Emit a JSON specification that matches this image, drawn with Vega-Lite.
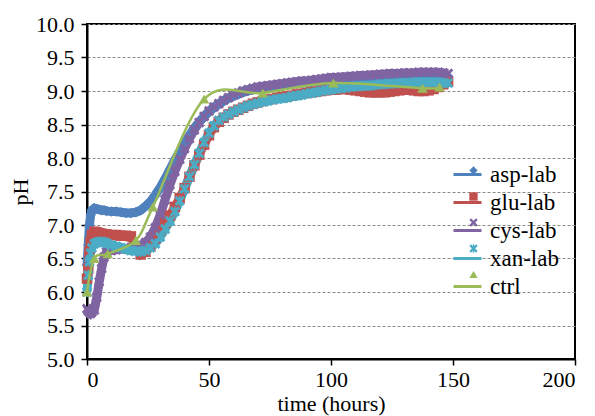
{
  "$schema": "https://vega.github.io/schema/vega-lite/v6.json",
  "width": 488,
  "height": 335,
  "autosize": {"type": "none"},
  "padding": {"left": 87, "top": 24, "right": 20, "bottom": 57},
  "background": "white",
  "view": {"stroke": "#000", "strokeWidth": 2},
  "config": {"font": "Liberation Serif"},
  "datasets": {
    "names": [
      {"series": "asp-lab", "label": "asp-lab", "o": 1},
      {"series": "glu-lab", "label": "glu-lab", "o": 2},
      {"series": "cys-lab", "label": "cys-lab", "o": 3},
      {"series": "xan-lab", "label": "xan-lab", "o": 4},
      {"series": "ctrl", "label": "ctrl", "o": 5}
    ],
    "ctrl": [
      {"series": "ctrl", "t": 0, "pH": 6.0},
      {"series": "ctrl", "t": 3, "pH": 6.5},
      {"series": "ctrl", "t": 8.5, "pH": 6.57},
      {"series": "ctrl", "t": 20, "pH": 6.77},
      {"series": "ctrl", "t": 27, "pH": 7.27},
      {"series": "ctrl", "t": 48, "pH": 8.88},
      {"series": "ctrl", "t": 72, "pH": 8.97},
      {"series": "ctrl", "t": 101, "pH": 9.12},
      {"series": "ctrl", "t": 137.5, "pH": 9.04},
      {"series": "ctrl", "t": 144.5, "pH": 9.06}
    ],
    "dense": [
      {"t": 0, "asp-lab": 6.40, "glu-lab": 6.20, "cys-lab": 5.75, "xan-lab": 6.00},
      {"t": 0.5, "asp-lab": 6.70, "glu-lab": 6.35, "cys-lab": 5.72, "xan-lab": 6.25},
      {"t": 1, "asp-lab": 7.00, "glu-lab": 6.60, "cys-lab": 5.70, "xan-lab": 6.45},
      {"t": 1.5, "asp-lab": 7.15, "glu-lab": 6.75, "cys-lab": 5.68, "xan-lab": 6.58},
      {"t": 2, "asp-lab": 7.22, "glu-lab": 6.85, "cys-lab": 5.70, "xan-lab": 6.66},
      {"t": 3, "asp-lab": 7.25, "glu-lab": 6.90, "cys-lab": 5.73, "xan-lab": 6.72},
      {"t": 4, "asp-lab": 7.24, "glu-lab": 6.89, "cys-lab": 5.92, "xan-lab": 6.74},
      {"t": 5, "asp-lab": 7.23, "glu-lab": 6.88, "cys-lab": 6.15, "xan-lab": 6.75},
      {"t": 6, "asp-lab": 7.22, "glu-lab": 6.87, "cys-lab": 6.35, "xan-lab": 6.75},
      {"t": 7, "asp-lab": 7.22, "glu-lab": 6.86, "cys-lab": 6.52, "xan-lab": 6.74},
      {"t": 8, "asp-lab": 7.21, "glu-lab": 6.86, "cys-lab": 6.60, "xan-lab": 6.73},
      {"t": 10, "asp-lab": 7.20, "glu-lab": 6.85, "cys-lab": 6.62, "xan-lab": 6.70},
      {"t": 12, "asp-lab": 7.20, "glu-lab": 6.85, "cys-lab": 6.63, "xan-lab": 6.68},
      {"t": 14, "asp-lab": 7.19, "glu-lab": 6.84, "cys-lab": 6.64, "xan-lab": 6.66},
      {"t": 16, "asp-lab": 7.18, "glu-lab": 6.84, "cys-lab": 6.65, "xan-lab": 6.64},
      {"t": 18, "asp-lab": 7.18, "glu-lab": 6.83, "cys-lab": 6.66, "xan-lab": 6.62},
      {"t": 20, "asp-lab": 7.19, "glu-lab": 6.65, "cys-lab": 6.68, "xan-lab": 6.61},
      {"t": 22, "asp-lab": 7.22, "glu-lab": 6.56, "cys-lab": 6.70, "xan-lab": 6.60},
      {"t": 24, "asp-lab": 7.28, "glu-lab": 6.60, "cys-lab": 6.74, "xan-lab": 6.62},
      {"t": 26, "asp-lab": 7.35, "glu-lab": 6.68, "cys-lab": 6.82, "xan-lab": 6.66},
      {"t": 28, "asp-lab": 7.45, "glu-lab": 6.80, "cys-lab": 6.96, "xan-lab": 6.72},
      {"t": 30, "asp-lab": 7.56, "glu-lab": 6.92, "cys-lab": 7.15, "xan-lab": 6.82},
      {"t": 32, "asp-lab": 7.69, "glu-lab": 7.03, "cys-lab": 7.38, "xan-lab": 6.94},
      {"t": 34, "asp-lab": 7.83, "glu-lab": 7.14, "cys-lab": 7.60, "xan-lab": 7.06},
      {"t": 36, "asp-lab": 7.97, "glu-lab": 7.27, "cys-lab": 7.80, "xan-lab": 7.20},
      {"t": 38, "asp-lab": 8.10, "glu-lab": 7.40, "cys-lab": 7.98, "xan-lab": 7.36},
      {"t": 40, "asp-lab": 8.22, "glu-lab": 7.55, "cys-lab": 8.14, "xan-lab": 7.54},
      {"t": 42, "asp-lab": 8.34, "glu-lab": 7.72, "cys-lab": 8.29, "xan-lab": 7.72},
      {"t": 44, "asp-lab": 8.45, "glu-lab": 7.89, "cys-lab": 8.42, "xan-lab": 7.90},
      {"t": 46, "asp-lab": 8.54, "glu-lab": 8.05, "cys-lab": 8.53, "xan-lab": 8.07},
      {"t": 48, "asp-lab": 8.62, "glu-lab": 8.20, "cys-lab": 8.62, "xan-lab": 8.23},
      {"t": 50, "asp-lab": 8.69, "glu-lab": 8.34, "cys-lab": 8.70, "xan-lab": 8.37},
      {"t": 52, "asp-lab": 8.75, "glu-lab": 8.46, "cys-lab": 8.76, "xan-lab": 8.48},
      {"t": 54, "asp-lab": 8.80, "glu-lab": 8.54, "cys-lab": 8.81, "xan-lab": 8.56},
      {"t": 56, "asp-lab": 8.85, "glu-lab": 8.60, "cys-lab": 8.86, "xan-lab": 8.61},
      {"t": 58, "asp-lab": 8.89, "glu-lab": 8.65, "cys-lab": 8.90, "xan-lab": 8.65},
      {"t": 60, "asp-lab": 8.92, "glu-lab": 8.69, "cys-lab": 8.94, "xan-lab": 8.69},
      {"t": 62, "asp-lab": 8.95, "glu-lab": 8.72, "cys-lab": 8.97, "xan-lab": 8.72},
      {"t": 64, "asp-lab": 8.98, "glu-lab": 8.75, "cys-lab": 9.00, "xan-lab": 8.75},
      {"t": 66, "asp-lab": 9.00, "glu-lab": 8.78, "cys-lab": 9.02, "xan-lab": 8.78},
      {"t": 68, "asp-lab": 9.02, "glu-lab": 8.81, "cys-lab": 9.04, "xan-lab": 8.80},
      {"t": 70, "asp-lab": 9.03, "glu-lab": 8.83, "cys-lab": 9.06, "xan-lab": 8.82},
      {"t": 72, "asp-lab": 9.04, "glu-lab": 8.85, "cys-lab": 9.07, "xan-lab": 8.84},
      {"t": 74, "asp-lab": 9.05, "glu-lab": 8.87, "cys-lab": 9.08, "xan-lab": 8.85},
      {"t": 76, "asp-lab": 9.06, "glu-lab": 8.88, "cys-lab": 9.09, "xan-lab": 8.87},
      {"t": 78, "asp-lab": 9.07, "glu-lab": 8.90, "cys-lab": 9.10, "xan-lab": 8.88},
      {"t": 80, "asp-lab": 9.08, "glu-lab": 8.91, "cys-lab": 9.11, "xan-lab": 8.89},
      {"t": 82, "asp-lab": 9.09, "glu-lab": 8.92, "cys-lab": 9.12, "xan-lab": 8.90},
      {"t": 84, "asp-lab": 9.10, "glu-lab": 8.93, "cys-lab": 9.13, "xan-lab": 8.92},
      {"t": 86, "asp-lab": 9.11, "glu-lab": 8.95, "cys-lab": 9.14, "xan-lab": 8.93},
      {"t": 88, "asp-lab": 9.12, "glu-lab": 8.96, "cys-lab": 9.15, "xan-lab": 8.94},
      {"t": 90, "asp-lab": 9.12, "glu-lab": 8.97, "cys-lab": 9.15, "xan-lab": 8.96},
      {"t": 92, "asp-lab": 9.13, "glu-lab": 8.98, "cys-lab": 9.16, "xan-lab": 8.97},
      {"t": 94, "asp-lab": 9.14, "glu-lab": 8.99, "cys-lab": 9.17, "xan-lab": 8.98},
      {"t": 96, "asp-lab": 9.15, "glu-lab": 9.00, "cys-lab": 9.18, "xan-lab": 9.00},
      {"t": 98, "asp-lab": 9.16, "glu-lab": 9.01, "cys-lab": 9.19, "xan-lab": 9.01},
      {"t": 100, "asp-lab": 9.17, "glu-lab": 9.02, "cys-lab": 9.20, "xan-lab": 9.02},
      {"t": 102, "asp-lab": 9.17, "glu-lab": 9.02, "cys-lab": 9.20, "xan-lab": 9.03},
      {"t": 104, "asp-lab": 9.18, "glu-lab": 9.03, "cys-lab": 9.21, "xan-lab": 9.04},
      {"t": 106, "asp-lab": 9.18, "glu-lab": 9.03, "cys-lab": 9.21, "xan-lab": 9.05},
      {"t": 108, "asp-lab": 9.19, "glu-lab": 9.02, "cys-lab": 9.22, "xan-lab": 9.06},
      {"t": 110, "asp-lab": 9.19, "glu-lab": 9.01, "cys-lab": 9.22, "xan-lab": 9.07},
      {"t": 112, "asp-lab": 9.20, "glu-lab": 9.00, "cys-lab": 9.23, "xan-lab": 9.07},
      {"t": 114, "asp-lab": 9.20, "glu-lab": 8.99, "cys-lab": 9.23, "xan-lab": 9.08},
      {"t": 116, "asp-lab": 9.21, "glu-lab": 8.98, "cys-lab": 9.24, "xan-lab": 9.08},
      {"t": 118, "asp-lab": 9.21, "glu-lab": 8.98, "cys-lab": 9.24, "xan-lab": 9.09},
      {"t": 120, "asp-lab": 9.21, "glu-lab": 8.98, "cys-lab": 9.25, "xan-lab": 9.10},
      {"t": 122, "asp-lab": 9.22, "glu-lab": 8.98, "cys-lab": 9.25, "xan-lab": 9.10},
      {"t": 124, "asp-lab": 9.22, "glu-lab": 8.99, "cys-lab": 9.26, "xan-lab": 9.11},
      {"t": 126, "asp-lab": 9.22, "glu-lab": 9.00, "cys-lab": 9.26, "xan-lab": 9.11},
      {"t": 128, "asp-lab": 9.23, "glu-lab": 9.01, "cys-lab": 9.26, "xan-lab": 9.12},
      {"t": 130, "asp-lab": 9.23, "glu-lab": 9.02, "cys-lab": 9.27, "xan-lab": 9.12},
      {"t": 132, "asp-lab": 9.23, "glu-lab": 9.02, "cys-lab": 9.27, "xan-lab": 9.12},
      {"t": 134, "asp-lab": 9.24, "glu-lab": 9.01, "cys-lab": 9.27, "xan-lab": 9.13},
      {"t": 136, "asp-lab": 9.24, "glu-lab": 9.00, "cys-lab": 9.28, "xan-lab": 9.13},
      {"t": 138, "asp-lab": 9.24, "glu-lab": 9.00, "cys-lab": 9.28, "xan-lab": 9.13},
      {"t": 140, "asp-lab": 9.24, "glu-lab": 9.01, "cys-lab": 9.28, "xan-lab": 9.13},
      {"t": 142, "asp-lab": 9.24, "glu-lab": 9.03, "cys-lab": 9.28, "xan-lab": 9.13},
      {"t": 144, "asp-lab": 9.23, "glu-lab": 9.06, "cys-lab": 9.28, "xan-lab": 9.13},
      {"t": 146, "asp-lab": 9.23, "glu-lab": 9.10, "cys-lab": 9.27, "xan-lab": 9.12},
      {"t": 148, "asp-lab": 9.22, "glu-lab": 9.14, "cys-lab": 9.26, "xan-lab": 9.12}
    ]
  },
  "encoding": {
    "x": {
      "field": "t", "type": "quantitative",
      "scale": {"domain": [0, 200], "nice": false},
      "axis": {
        "values": [0, 50, 100, 150, 200], "title": "time (hours)", "grid": false,
        "labelFont": "Liberation Serif", "labelFontSize": 22, "labelColor": "#000",
        "titleFont": "Liberation Serif", "titleFontSize": 22, "titleFontWeight": "normal", "titleColor": "#000",
        "domainColor": "#000", "domainWidth": 2, "tickColor": "#000", "tickWidth": 1.5, "tickSize": 6,
        "labelPadding": 4, "titlePadding": 3
      }
    },
    "y": {
      "field": "pH", "type": "quantitative",
      "scale": {"domain": [5, 10], "nice": false, "zero": false},
      "axis": {
        "values": [5, 5.5, 6, 6.5, 7, 7.5, 8, 8.5, 9, 9.5, 10], "format": ".1f", "title": "pH",
        "grid": true, "gridDash": [3, 2], "gridColor": "#8a8a8a", "gridWidth": 1,
        "labelFont": "Liberation Serif", "labelFontSize": 22, "labelColor": "#000",
        "titleFont": "Liberation Serif", "titleFontSize": 22, "titleFontWeight": "normal", "titleColor": "#000",
        "domainColor": "#000", "domainWidth": 2, "tickColor": "#000", "tickWidth": 1.5, "tickSize": 6,
        "labelPadding": 7, "titlePadding": 3
      }
    }
  },
  "layer": [
    {
      "data": {"name": "dense"},
      "transform": [
        {"fold": ["asp-lab", "glu-lab", "cys-lab", "xan-lab"], "as": ["series", "pH"]},
        {"lookup": "series", "from": {"data": {"name": "names"}, "key": "series", "fields": ["label", "o"]}}
      ],
      "mark": {"type": "line", "strokeWidth": 9},
      "encoding": {
        "stroke": {
          "field": "series", "type": "nominal",
          "scale": {"domain": ["asp-lab", "glu-lab", "cys-lab", "xan-lab", "ctrl"], "range": ["#4F81BD", "#C0504D", "#8064A2", "#4BACC6", "#9BBB59"]},
          "legend": {"orient": "none", "legendX": 365, "legendY": 135, "title": null, "symbolType": "stroke", "symbolSize": 784, "symbolStrokeWidth": 3, "labelOffset": 7, "rowPadding": 0, "padding": 0, "labelFont": "Liberation Serif", "labelFontSize": 23, "labelColor": "#000"}
        }
      }
    },
    {
      "data": {"name": "dense"},
      "transform": [
        {"fold": ["asp-lab", "glu-lab", "cys-lab", "xan-lab"], "as": ["series", "pH"]},
        {"lookup": "series", "from": {"data": {"name": "names"}, "key": "series", "fields": ["label", "o"]}}
      ],
      "mark": {"type": "point", "filled": true, "opacity": 1, "size": 110},
      "encoding": {
        "fill": {
          "field": "label", "type": "nominal", "sort": {"field": "o", "op": "min"},
          "scale": {"range": ["#4F81BD", "#C0504D", "#8064A2", "#4BACC6", "#9BBB59"]},
          "legend": {"orient": "none", "legendX": 375, "legendY": 135, "title": null, "symbolSize": 70, "labelExpr": "''", "labelOffset": 7, "rowPadding": 2, "padding": 0, "labelFont": "Liberation Serif", "labelFontSize": 23}
        },
        "shape": {
          "field": "label", "type": "nominal", "sort": {"field": "o", "op": "min"},
          "scale": {"range": ["diamond", "square", "M-1,-0.6L-0.6,-1L0,-0.4L0.6,-1L1,-0.6L0.4,0L1,0.6L0.6,1L0,0.4L-0.6,1L-1,0.6L-0.4,0Z", "M-1,-0.6L-0.6,-1L0,-0.4L0.6,-1L1,-0.6L0.4,0L1,0.6L0.6,1L0,0.4L-0.6,1L-1,0.6L-0.4,0ZM-0.15,-1L0.15,-1L0.15,1L-0.15,1Z", "triangle-up"]},
          "legend": {"orient": "none", "legendX": 375, "legendY": 135, "title": null, "symbolSize": 70, "labelExpr": "''", "labelOffset": 7, "rowPadding": 2, "padding": 0, "labelFont": "Liberation Serif", "labelFontSize": 23}
        },
        "order": {"field": "o", "type": "quantitative"}
      }
    },
    {
      "data": {"name": "ctrl"},
      "mark": {"type": "line", "strokeWidth": 2.5, "interpolate": "cardinal", "tension": 0},
      "encoding": {
        "stroke": {"field": "series", "type": "nominal"}
      }
    },
    {
      "data": {"name": "ctrl"},
      "transform": [
        {"lookup": "series", "from": {"data": {"name": "names"}, "key": "series", "fields": ["label", "o"]}}
      ],
      "mark": {"type": "point", "filled": true, "opacity": 1, "size": 110},
      "encoding": {
        "fill": {"field": "label", "type": "nominal", "sort": {"field": "o", "op": "min"}},
        "shape": {"field": "label", "type": "nominal", "sort": {"field": "o", "op": "min"}}
      }
    }
  ]
}
